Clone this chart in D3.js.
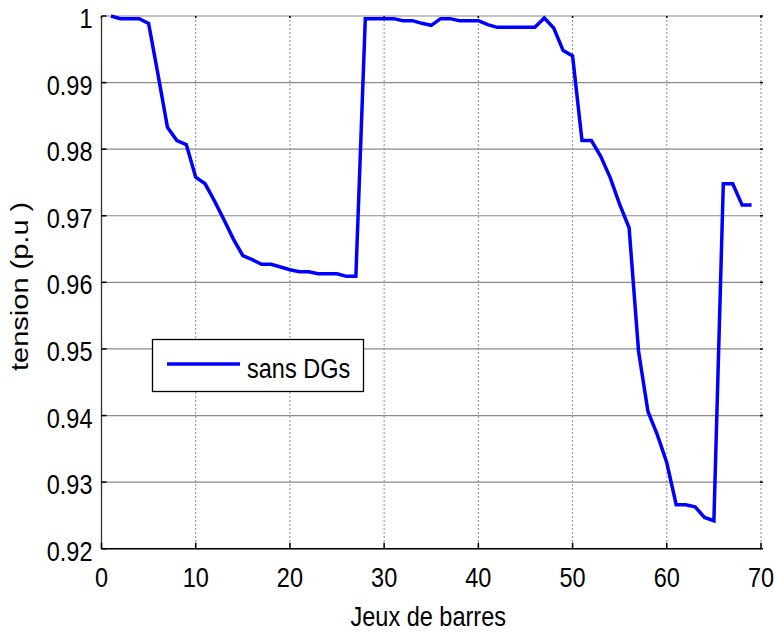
<!DOCTYPE html>
<html>
<head>
<meta charset="utf-8">
<script src="https://cdn.jsdelivr.net/npm/d3@7"></script>
<style>
  html, body { margin: 0; padding: 0; background: #fff; }
  svg { display: block; }
  text { font-family: Arial, "Liberation Sans", sans-serif; fill: #000; }
</style>
</head>
<body>
<svg id="chart" width="774" height="632"></svg>
<script>
// ---- data ----
const busIndex = d3.range(1, 70);
const tensionSansDG = [
  1.0000, 0.9996, 0.9996, 0.9996, 0.9989, 0.9912, 0.9833, 0.9813, 0.9807, 0.9758,
  0.9748, 0.9722, 0.9694, 0.9665, 0.9640, 0.9634, 0.9627, 0.9627, 0.9623, 0.9619,
  0.9616, 0.9616, 0.9613, 0.9613, 0.9613, 0.9609, 0.9609, 0.9996, 0.9996, 0.9996,
  0.9996, 0.9993, 0.9993, 0.9989, 0.9986, 0.9996, 0.9996, 0.9993, 0.9993, 0.9993,
  0.9987, 0.9983, 0.9983, 0.9983, 0.9983, 0.9983, 0.9997, 0.9982, 0.9948, 0.9940,
  0.9813, 0.9813, 0.9789, 0.9757, 0.9717, 0.9682, 0.9497, 0.9406, 0.9371, 0.9329,
  0.9266, 0.9266, 0.9263, 0.9247, 0.9242, 0.9748, 0.9748, 0.9716, 0.9716
];
const xTicks = [0, 10, 20, 30, 40, 50, 60, 70];
const yTicks = [0.92, 0.93, 0.94, 0.95, 0.96, 0.97, 0.98, 0.99, 1];
const yTickLabels = ["0.92", "0.93", "0.94", "0.95", "0.96", "0.97", "0.98", "0.99", "1"];
const seriesName = "sans DGs";
const xTitle = "Jeux de barres";
const yTitle = "tension (p.u )";

// ---- layout ----
const L = 101.5, R = 761, T = 16, B = 548.7;
const SX = 0.84;   // horizontal squeeze of the reference text
const FS = 28;

const svg = d3.select("#chart");
const x = d3.scaleLinear().domain([0, 70]).range([L, R]);
const y = d3.scaleLinear().domain([0.92, 1]).range([B, T]);

function label(px, py, txt, anchor, size) {
  svg.append("text")
    .attr("transform", `translate(${px},${py}) scale(${SX},1)`)
    .attr("text-anchor", anchor)
    .style("font-size", (size || FS) + "px")
    .text(txt);
}

// grid: horizontal solid, vertical dotted
svg.append("g").selectAll("line").data(yTicks).join("line")
  .attr("x1", L).attr("x2", R)
  .attr("y1", d => y(d)).attr("y2", d => y(d))
  .attr("stroke", "#8a8a8a").attr("stroke-width", 1.2);
svg.append("g").selectAll("line").data(xTicks).join("line")
  .attr("x1", d => x(d)).attr("x2", d => x(d))
  .attr("y1", T).attr("y2", B)
  .attr("stroke", "#8a8a8a").attr("stroke-width", 1)
  .attr("stroke-dasharray", "2,2");

// axes lines
svg.append("line").attr("x1", L).attr("x2", L).attr("y1", T).attr("y2", B)
  .attr("stroke", "#333").attr("stroke-width", 1.3);
svg.append("line").attr("x1", L).attr("x2", R).attr("y1", B).attr("y2", B)
  .attr("stroke", "#000").attr("stroke-width", 1.5);

// ticks (inward)
const tk = svg.append("g").attr("stroke", "#000").attr("stroke-width", 1.5);
xTicks.forEach(d => {
  tk.append("line").attr("x1", x(d)).attr("x2", x(d)).attr("y1", B).attr("y2", B - 6);
  tk.append("line").attr("x1", x(d)).attr("x2", x(d)).attr("y1", T).attr("y2", T + 2);
});
yTicks.forEach(d => {
  tk.append("line").attr("x1", L).attr("x2", L + 5).attr("y1", y(d)).attr("y2", y(d));
  tk.append("line").attr("x1", R - 1).attr("x2", R + 2).attr("y1", y(d)).attr("y2", y(d));
});

// tick labels
xTicks.forEach(d => label(x(d), 587, String(d), "middle"));
yTicks.forEach((d, i) => label(92.5, y(d) + 12, yTickLabels[i], "end"));

// axis titles
label((L + R) / 2 - 3, 626, xTitle, "middle");
svg.append("text")
  .attr("transform", `translate(28,${(T + B) / 2 + 4}) rotate(-90) scale(1,${SX})`)
  .attr("text-anchor", "middle")
  .style("font-size", (FS + 1) + "px")
  .text(yTitle);

// data line
const line = d3.line().x((d, i) => x(busIndex[i])).y(d => y(d));
svg.append("path").datum(tensionSansDG)
  .attr("d", line)
  .attr("fill", "none")
  .attr("stroke", "#0000ff")
  .attr("stroke-width", 3.5)
  .attr("stroke-linejoin", "miter");

// legend
const lg = svg.append("g");
lg.append("rect").attr("x", 152.5).attr("y", 339.5).attr("width", 211).attr("height", 52)
  .attr("fill", "#fff").attr("stroke", "#000").attr("stroke-width", 1.3);
lg.append("line").attr("x1", 167).attr("x2", 240).attr("y1", 364).attr("y2", 364)
  .attr("stroke", "#0000ff").attr("stroke-width", 3.5);
label(247, 378, seriesName, "start");
</script>
</body>
</html>
